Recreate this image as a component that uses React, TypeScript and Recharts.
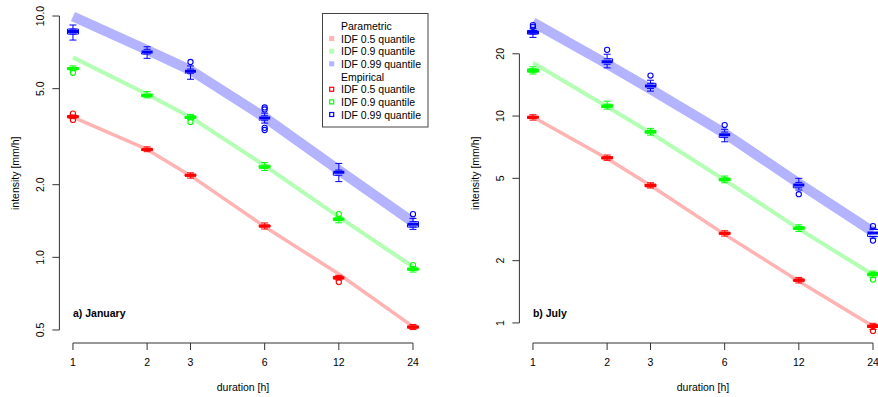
import React from 'react';
import { ComposedChart, Line, Scatter, ErrorBar, XAxis, YAxis, ReferenceArea, ReferenceLine, Label } from 'recharts';

const durations = [1, 2, 3, 6, 12, 24];

// parametric IDF curves, read at the durations
const janCurve05 = [3.81, 2.8, 2.18, 1.34, 0.853, 0.516];
const janCurve09 = [6.74, 4.74, 3.81, 2.4, 1.47, 0.914];
const janCurve099 = [9.95, 7.23, 5.97, 3.8, 2.3, 1.4];
const julCurve05 = [9.9, 6.24, 4.62, 2.68, 1.59, 0.964];
const julCurve09 = [18.1, 11.1, 8.3, 4.9, 2.85, 1.71];
const julCurve099 = [28.4, 17.85, 13.5, 8.25, 4.73, 2.76];

// empirical boxplots per duration: [lower whisker, q1, median, q3, upper whisker]
const janBox05 = [[3.76, 3.78, 3.83, 3.86, 3.89], [2.74, 2.77, 2.8, 2.83, 2.87], [2.13, 2.17, 2.19, 2.21, 2.24], [1.31, 1.335, 1.348, 1.36, 1.388], [0.805, 0.813, 0.823, 0.834, 0.842], [0.502, 0.509, 0.514, 0.519, 0.527]];
const janBox09 = [[5.93, 6.0, 6.06, 6.12, 6.21], [4.58, 4.63, 4.69, 4.75, 4.86], [3.72, 3.76, 3.8, 3.86, 3.91], [2.29, 2.34, 2.37, 2.41, 2.47], [1.39, 1.42, 1.437, 1.455, 1.47], [0.869, 0.885, 0.894, 0.9, 0.916]];
const janBox099 = [[7.95, 8.42, 8.63, 8.83, 9.18], [6.68, 6.96, 7.09, 7.28, 7.46], [5.47, 5.79, 5.9, 6.03, 6.21], [3.6, 3.7, 3.78, 3.86, 3.96], [2.06, 2.19, 2.25, 2.3, 2.45], [1.306, 1.335, 1.37, 1.405, 1.45]];
const julBox05 = [[9.56, 9.73, 9.86, 9.97, 10.15], [6.11, 6.21, 6.28, 6.37, 6.48], [4.49, 4.55, 4.62, 4.69, 4.76], [2.63, 2.68, 2.71, 2.74, 2.79], [1.56, 1.59, 1.61, 1.63, 1.66], [0.93, 0.95, 0.964, 0.98, 0.996]];
const julBox09 = [[15.97, 16.3, 16.6, 16.9, 17.3], [10.8, 11.0, 11.2, 11.4, 11.8], [8.09, 8.27, 8.4, 8.53, 8.72], [4.76, 4.86, 4.94, 5.02, 5.13], [2.77, 2.83, 2.87, 2.92, 2.98], [1.66, 1.69, 1.72, 1.75, 1.78]];
const julBox099 = [[24.0, 24.9, 25.4, 25.9, 26.4], [17.1, 17.8, 18.3, 18.9, 19.9], [13.2, 13.6, 13.97, 14.4, 14.9], [7.51, 7.89, 8.12, 8.37, 8.63], [4.39, 4.5, 4.64, 4.78, 5.0], [2.57, 2.62, 2.72, 2.83, 2.87]];

// outliers: [duration, value]
const janOut05 = [[1, 3.94], [1, 3.71], [12, 0.79]];
const janOut09 = [[1, 5.82], [3, 3.64], [12, 1.51], [24, 0.929]];
const janOut099 = [[3, 6.45], [6, 4.18], [6, 4.1], [6, 3.44], [6, 3.37], [24, 1.51]];
const julOut05 = [[24, 0.915]];
const julOut09 = [[24, 1.62]];
const julOut099 = [[1, 27.5], [1, 27.0], [2, 20.9], [3, 15.7], [6, 9.05], [12, 4.19], [24, 2.94], [24, 2.5]];

const janTicks = [0.5, 1, 2, 5, 10];
const julTicks = [1, 2, 5, 10, 20];

const colors = ['#FF0000', '#00FF00', '#0000FF'];
const bandColors = ['#FFB3B3', '#B3FFB3', '#B3B3FF'];
const bandWidths = [3.5, 4, 10];
const labels = ['IDF 0.5 quantile', 'IDF 0.9 quantile', 'IDF 0.99 quantile'];
const keys = ['q05', 'q09', 'q099'];

const FONT = '"Liberation Sans", Arial, Helvetica, sans-serif';
const AXIS = '#333';
const boxK = Math.pow(10, 5.5 / 246.3); // half box width on the log x scale

const xDomain = [0.881, 27.26];

const MedianShape = (props: any) => {
  const { cx, cy, fill } = props;
  if (cx == null || cy == null) return <g />;
  return <line x1={cx - 5.5} x2={cx + 5.5} y1={cy} y2={cy} stroke={fill} strokeWidth={3} />;
};

const OutlierShape = (props: any) => {
  const { cx, cy, fill } = props;
  if (cx == null || cy == null) return <g />;
  return <circle cx={cx} cy={cy} r={2.6} fill="none" stroke={fill} strokeWidth={1.1} />;
};

const NoShape = () => <g />;

const XTick = (props: any) => {
  const { x, y, payload } = props;
  return (
    <g>
      <line x1={x} x2={x} y1={y} y2={y + 7} stroke={AXIS} />
      <text x={x} y={y + 19} textAnchor="middle" dominantBaseline="central" fontSize={10.5} fontFamily={FONT} fill="#000">
        {payload.value}
      </text>
    </g>
  );
};

const makeYTick = (fmt: (v: number) => string) => (props: any) => {
  const { x, y, payload } = props;
  return (
    <g>
      <line x1={x - 7} x2={x} y1={y} y2={y} stroke={AXIS} />
      <text x={x - 19} y={y} transform={`rotate(-90 ${x - 19} ${y})`} textAnchor="middle" dominantBaseline="central" fontSize={10.5} fontFamily={FONT} fill="#000">
        {fmt(payload.value)}
      </text>
    </g>
  );
};

interface PanelProps {
  curves: number[][];
  boxes: number[][][];
  outliers: number[][][];
  yDomain: number[];
  yTicks: number[];
  fmt: (v: number) => string;
  title: string;
  left: number;
  children?: React.ReactNode;
}

const Panel = ({ curves, boxes, outliers, yDomain, yTicks, fmt, title, left, children }: PanelProps) => {
  const curveData = durations.map((d, i) => ({ d, q05: curves[0][i], q09: curves[1][i], q099: curves[2][i] }));
  const YTick = makeYTick(fmt);
  return (
    <div style={{ position: 'absolute', left, top: 0, width: 440, height: 397 }}>
      <ComposedChart width={440} height={397} data={curveData} margin={{ top: 3.5, right: 13.4, bottom: 0, left: 0 }}>
        <XAxis dataKey="d" type="number" scale="log" domain={xDomain} allowDataOverflow ticks={durations} interval={0}
          height={54} tickSize={0} tickMargin={0} axisLine={false} tickLine={false} tick={<XTick />}>
          <Label content={(p: any) => {
            const vb = p.viewBox;
            return <text x={vb.x + vb.width / 2} y={vb.y + 44} textAnchor="middle" dominantBaseline="central" fontSize={10.5} fontFamily={FONT} fill="#000">duration [h]</text>;
          }} />
        </XAxis>
        <YAxis type="number" scale="log" domain={yDomain} allowDataOverflow ticks={yTicks} interval={0}
          width={59.4} tickSize={0} tickMargin={0} axisLine={false} tickLine={false} tick={<YTick />}>
          <Label content={(p: any) => {
            const vb = p.viewBox;
            const cy = vb.y + vb.height / 2;
            return <text x={15} y={cy} transform={`rotate(-90 15 ${cy})`} textAnchor="middle" dominantBaseline="central" fontSize={10.5} fontFamily={FONT} fill="#000">intensity [mm/h]</text>;
          }} />
        </YAxis>
        <ReferenceLine segment={[{ x: durations[0], y: yDomain[0] }, { x: durations[durations.length - 1], y: yDomain[0] }]} stroke={AXIS} ifOverflow="visible" />
        <ReferenceLine segment={[{ x: xDomain[0], y: yTicks[0] }, { x: xDomain[0], y: yTicks[yTicks.length - 1] }]} stroke={AXIS} ifOverflow="visible" />
        <ReferenceLine segment={[{ x: durations[0], y: yDomain[0] }, { x: durations[0], y: yDomain[0] }]} stroke="none" ifOverflow="visible"
          label={(p: any) => {
            const vb = p.viewBox;
            return <text x={vb.x} y={vb.y - 30} dominantBaseline="central" fontSize={10.5} fontWeight="bold" fontFamily={FONT} fill="#000">{title}</text>;
          }} />
        {boxes.map((set, c) =>
          set.map((b, i) => (
            <ReferenceArea key={`box-${c}-${i}`} x1={durations[i] / boxK} x2={durations[i] * boxK} y1={b[1]} y2={b[3]}
              fill="#FFFFFF" fillOpacity={1} stroke={colors[c]} strokeWidth={1} ifOverflow="visible" />
          ))
        )}
        {keys.map((k, c) => (
          <Line key={k} dataKey={k} stroke={bandColors[c]} strokeWidth={bandWidths[c]} strokeLinecap="butt" strokeLinejoin="round" dot={false} activeDot={false} isAnimationActive={false} type="linear" />
        ))}
        {boxes.map((set, c) => (
          <Scatter key={`up-${c}`} data={set.map((b, i) => ({ d: durations[i], v: b[3], err: [0, b[4] - b[3]] }))} dataKey="v" fill={colors[c]} shape={<NoShape />} isAnimationActive={false}>
            <ErrorBar dataKey="err" direction="y" width={3.5} stroke={colors[c]} strokeWidth={1} />
          </Scatter>
        ))}
        {boxes.map((set, c) => (
          <Scatter key={`dn-${c}`} data={set.map((b, i) => ({ d: durations[i], v: b[1], err: [b[1] - b[0], 0] }))} dataKey="v" fill={colors[c]} shape={<NoShape />} isAnimationActive={false}>
            <ErrorBar dataKey="err" direction="y" width={3.5} stroke={colors[c]} strokeWidth={1} />
          </Scatter>
        ))}
        {boxes.map((set, c) => (
          <Scatter key={`med-${c}`} data={set.map((b, i) => ({ d: durations[i], v: b[2] }))} dataKey="v" fill={colors[c]} shape={<MedianShape />} isAnimationActive={false} />
        ))}
        {outliers.map((set, c) => (
          <Scatter key={`out-${c}`} data={set.map(([d, v]) => ({ d, v }))} dataKey="v" fill={colors[c]} shape={<OutlierShape />} isAnimationActive={false} />
        ))}
      </ComposedChart>
      {children}
    </div>
  );
};

const LegendBox = () => {
  const rowH = 12.6;
  const rows: { text: string; kind: 'head' | 'band' | 'emp'; c: number }[] = [
    { text: 'Parametric', kind: 'head', c: 0 },
    ...labels.map((t, c) => ({ text: t, kind: 'band' as const, c })),
    { text: 'Empirical', kind: 'head', c: 0 },
    ...labels.map((t, c) => ({ text: t, kind: 'emp' as const, c })),
  ];
  return (
    <svg style={{ position: 'absolute', left: 322, top: 13 }} width={107} height={115}>
      <rect x={0.5} y={0.5} width={105.5} height={113.5} fill="#fff" stroke="#444" strokeWidth={1} />
      {rows.map((r, i) => {
        const cy = 13 + i * rowH + (i >= 4 ? 0.3 : 0);
        return (
          <g key={i}>
            {r.kind === 'band' && <rect x={7.2} y={cy - 2.5} width={5} height={5} fill={bandColors[r.c]} />}
            {r.kind === 'emp' && <rect x={7.7} y={cy - 2} width={4} height={4} fill="none" stroke={colors[r.c]} strokeWidth={1.2} />}
            <text x={19} y={cy} dominantBaseline="central" fontSize={10.5} fontFamily={FONT} fill="#000">{r.text}</text>
          </g>
        );
      })}
    </svg>
  );
};

export default function App() {
  return (
    <div style={{ position: 'fixed', left: 0, top: 0, width: 878, height: 397, overflow: 'hidden', background: '#fff' }}>
      <Panel curves={[janCurve05, janCurve09, janCurve099]} boxes={[janBox05, janBox09, janBox099]}
        outliers={[janOut05, janOut09, janOut099]} yDomain={[0.4416, 11.27]} yTicks={janTicks}
        fmt={(v) => v.toFixed(1)} title="a) January" left={0}>
        <LegendBox />
      </Panel>
      <Panel curves={[julCurve05, julCurve09, julCurve099]} boxes={[julBox05, julBox09, julBox099]}
        outliers={[julOut05, julOut09, julOut099]} yDomain={[0.8, 35.0]} yTicks={julTicks}
        fmt={(v) => String(v)} title="b) July" left={460} />
    </div>
  );
}
